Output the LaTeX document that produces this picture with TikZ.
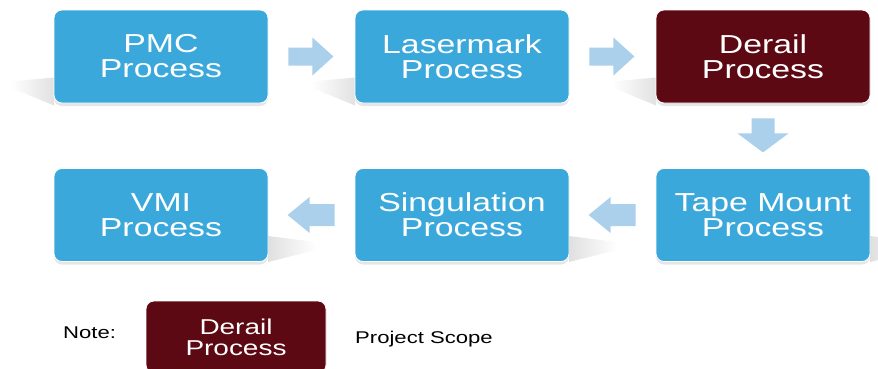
\documentclass[tikz,border=0pt]{standalone}
\usepackage{fontspec}
\setmainfont{Liberation Sans}[FakeStretch=1.3]
\usetikzlibrary{shadows}
\definecolor{bleuEtape}{RGB}{59,168,219}
\definecolor{rougeScope}{RGB}{92,9,20}
\definecolor{bleuFleche}{RGB}{171,208,235}
\tikzset{
    etape/.style={fill=bleuEtape, draw=white, line width=0.8pt, rounded corners=8pt,
        minimum width=214pt, minimum height=93pt, inner sep=0pt, align=center,
        text=white, font=\fontsize{26}{25}\selectfont,
        drop shadow={shadow xshift=0pt, shadow yshift=-3pt, opacity=0.2}},
    perimetre/.style={etape, fill=rougeScope},
    fleche/.style={fill=bleuFleche},
    ombreG/.style={left color=white, right color=black!40},
    ombreD/.style={left color=black!40, right color=white},
    legende/.style={anchor=base west, inner sep=0pt, font=\fontsize{17}{20}\selectfont}
}
\begin{document}
\begin{tikzpicture}[x=1pt,y=-1pt]
        \useasboundingbox (0,0) rectangle (878,368);
        \clip (0,0) rectangle (878,368);

        \coordinate (pmcPos) at (161,56.5);
        \coordinate (laserPos) at (462,56.5);
        \coordinate (derailPos) at (763,56.5);
        \coordinate (tapePos) at (763,215);
        \coordinate (singulPos) at (462,215);
        \coordinate (vmiPos) at (161,215);

        % ombres des etapes (derriere)
        \foreach \pos in {pmcPos,laserPos,derailPos}
            \shade[ombreG] (\pos) ++(-151,25) -- ++(44,-4) -- ++(0,28) -- ++(-44,-18) -- cycle;
        \foreach \pos in {tapePos,singulPos,vmiPos}
            \shade[ombreD] (\pos) ++(107,21) -- ++(48,6) -- ++(0,8) -- ++(-48,12) -- cycle;

        % etapes du procede
        \node[etape] (pmc) at (pmcPos) {PMC\\Process};
        \node[etape] (laser) at (laserPos) {Lasermark\\Process};
        \node[perimetre] (derail) at (derailPos) {Derail\\Process};
        \node[etape] (tape) at (tapePos) {Tape Mount\\Process};
        \node[etape] (singul) at (singulPos) {Singulation\\Process};
        \node[etape] (vmi) at (vmiPos) {VMI\\Process};

        % fleches entre les etapes
        \fill[fleche] (pmc.east) ++(20,-9) -- ++(24,0) -- ++(0,-10) -- ++(21,19)
            -- ++(-21,19) -- ++(0,-10) -- ++(-24,0) -- cycle;
        \fill[fleche] (laser.east) ++(20,-9) -- ++(24,0) -- ++(0,-10) -- ++(21,19)
            -- ++(-21,19) -- ++(0,-10) -- ++(-24,0) -- cycle;
        \fill[fleche] (derail.south) ++(-11.5,15) -- ++(23,0) -- ++(0,15) -- ++(14,0)
            -- ++(-25.5,19) -- ++(-25.5,-19) -- ++(14,0) -- cycle;
        \fill[fleche] (tape.west) ++(-20,-11) -- ++(-25,0) -- ++(0,-7) -- ++(-22,18)
            -- ++(22,18) -- ++(0,-7) -- ++(25,0) -- cycle;
        \fill[fleche] (singul.west) ++(-20,-11) -- ++(-25,0) -- ++(0,-7) -- ++(-22,18)
            -- ++(22,18) -- ++(0,-7) -- ++(25,0) -- cycle;

        % legende
        \node[legende] (noteTxt) at (63,338) {Note:};
        \node[perimetre, minimum width=180pt, minimum height=72pt,
            font=\fontsize{21.5}{21}\selectfont] (noteBox) at (236,337) {Derail\\Process};
        \node[legende] (scopeTxt) at (355,343) {Project Scope};
    \end{tikzpicture}
\end{document}
